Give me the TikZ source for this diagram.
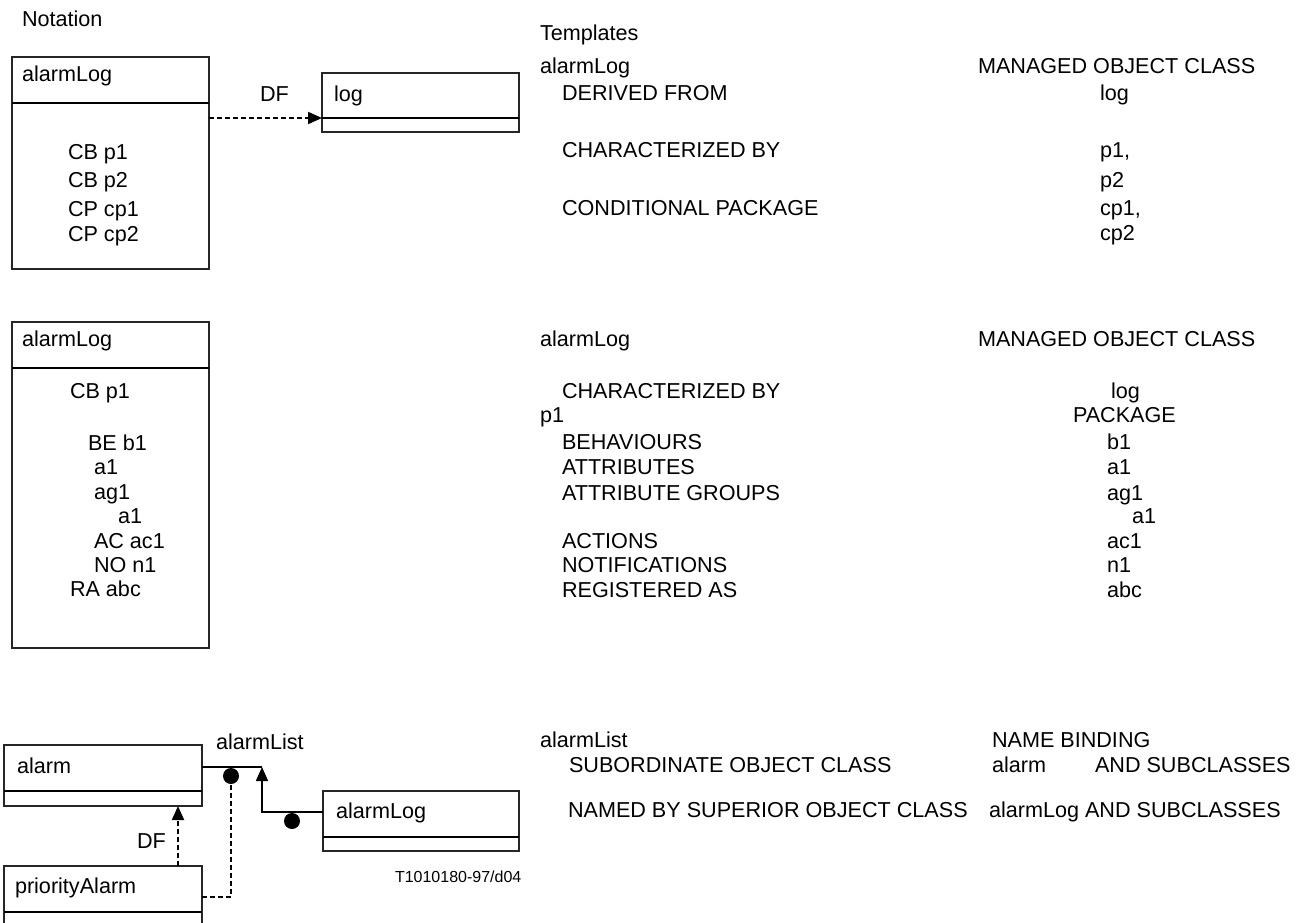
\documentclass[tikz,border=0pt]{standalone}
\usepackage{fontspec}
\setmainfont{Liberation Sans}
\usetikzlibrary{arrows.meta,calc}
\begin{document}
\begin{tikzpicture}[x=1pt,y=-1pt,
  txt/.style={anchor=base west, inner sep=0pt, outer sep=0pt, font=\fontsize{21.6}{26}\selectfont},
  small/.style={anchor=base west, inner sep=0pt, outer sep=0pt, font=\fontsize{16}{19}\selectfont},
  box/.style={draw=black!85, line width=1.4pt, anchor=north west, inner sep=0pt, outer sep=0pt},
  div/.style={line width=2.2pt, black},
  dsh/.style={line width=2pt, dash pattern=on 5pt off 3pt},
  conn/.style={line width=2pt},
  tipA/.style={-{Triangle[length=14pt,width=12pt]}},
  dot/.style={circle, fill=black, inner sep=0pt, outer sep=0pt, minimum size=16pt}
]
\useasboundingbox (0,0) rectangle (1307,923);
\clip (0,0) rectangle (1307,923);

% ---------- boxes ----------
\node[box, minimum width=197pt, minimum height=212pt] (b1) at (12,57) {};
\draw[div] ($(b1.north west)+(0,46)$) -- ($(b1.north east)+(0,46)$);
\node[box, minimum width=197pt, minimum height=59pt] (lg) at (322,73) {};
\draw[div] ($(lg.north west)+(0,45)$) -- ($(lg.north east)+(0,45)$);
\node[box, minimum width=197pt, minimum height=326pt] (b2) at (12,322) {};
\draw[div] ($(b2.north west)+(0,46)$) -- ($(b2.north east)+(0,46)$);
\node[box, minimum width=198pt, minimum height=61pt] (al) at (4,745) {};
\draw[div] ($(al.north west)+(0,46)$) -- ($(al.north east)+(0,46)$);
\node[box, minimum width=196pt, minimum height=60pt] (alB) at (323,791) {};
\draw[div] ($(alB.north west)+(0,46)$) -- ($(alB.north east)+(0,46)$);
\node[box, minimum width=198pt, minimum height=90pt] (pa) at (4,866) {};
\draw[div] ($(pa.north west)+(0,46)$) -- ($(pa.north east)+(0,46)$);

% ---------- texts: notation ----------
\node[txt] (n0) at (22,27) {Notation};
\node[txt] (n1) at (22,82) {alarmLog};
\node[txt] (n2) at (334,102) {log};
\node[txt] (n3) at (260,102) {DF};
\node[txt] (n4) at (68,160) {CB p1};
\node[txt] (n5) at (68,188) {CB p2};
\node[txt] (n6) at (68,216) {CP cp1};
\node[txt] (n7) at (68,241) {CP cp2};

\node[txt] (m1) at (22,346) {alarmLog};
\node[txt] (m2) at (70,398) {CB p1};
\node[txt] (m3) at (88,450) {BE b1};
\node[txt] (m4) at (94,474) {a1};
\node[txt] (m5) at (94,499) {ag1};
\node[txt] (m6) at (118,523) {a1};
\node[txt] (m7) at (94,548) {AC ac1};
\node[txt] (m8) at (94,572) {NO n1};
\node[txt] (m9) at (70,596) {RA abc};

\node[txt] (k1) at (17,773) {alarm};
\node[txt] (k2) at (336,818) {alarmLog};
\node[txt] (k3) at (15,893) {priorityAlarm};
\node[txt] (k4) at (216,749) {alarmList};
\node[txt] (k5) at (137,848) {DF};
\node[small] (k6) at (395,882) {T1010180-97/d04};

% ---------- texts: templates ----------
\node[txt] (t0) at (540,41) {Templates};
\node[txt] (t1) at (540,74) {alarmLog};
\node[txt] (t2) at (978,74) {MANAGED OBJECT CLASS};
\node[txt] (t3) at (562,101) {DERIVED FROM};
\node[txt] (t4) at (1100,101) {log};
\node[txt] (t5) at (562,158) {CHARACTERIZED BY};
\node[txt] (t6) at (1100,158) {p1,};
\node[txt] (t7) at (1100,187) {p2};
\node[txt] (t8) at (562,215) {CONDITIONAL PACKAGE};
\node[txt] (t9) at (1100,215) {cp1,};
\node[txt] (t10) at (1100,240) {cp2};

\node[txt] (u1) at (540,346) {alarmLog};
\node[txt] (u2) at (978,346) {MANAGED OBJECT CLASS};
\node[txt] (u3) at (562,398) {CHARACTERIZED BY};
\node[txt] (u4) at (1111,398) {log};
\node[txt] (u5) at (540,422) {p1};
\node[txt] (u6) at (1073,422) {PACKAGE};
\node[txt] (u7) at (562,449) {BEHAVIOURS};
\node[txt] (u8) at (1107,449) {b1};
\node[txt] (u9) at (562,474) {ATTRIBUTES};
\node[txt] (u10) at (1107,474) {a1};
\node[txt] (u11) at (562,500) {ATTRIBUTE GROUPS};
\node[txt] (u12) at (1107,500) {ag1};
\node[txt] (u13) at (1132,523) {a1};
\node[txt] (u14) at (562,548) {ACTIONS};
\node[txt] (u15) at (1107,548) {ac1};
\node[txt] (u16) at (562,572) {NOTIFICATIONS};
\node[txt] (u17) at (1107,572) {n1};
\node[txt] (u18) at (562,597) {REGISTERED AS};
\node[txt] (u19) at (1107,597) {abc};

\node[txt] (v1) at (540,747) {alarmList};
\node[txt] (v2) at (992,747) {NAME BINDING};
\node[txt] (v3) at (569,772) {SUBORDINATE OBJECT CLASS};
\node[txt] (v4) at (992,772) {alarm};
\node[txt] (v5) at (1095,772) {AND SUBCLASSES};
\node[txt] (v6) at (568,817) {NAMED BY SUPERIOR OBJECT CLASS};
\node[txt] (v7) at (989,817) {alarmLog AND SUBCLASSES};

% ---------- connectors ----------
\draw[dsh, tipA] (b1.east |- 0,118) -- (lg.west |- 0,118);

\coordinate (j1) at (262,767);
\coordinate (j2) at (262,812);
\draw[conn] (al.east |- j1) -- (j1);
\draw[line width=1.6pt, tipA] (alB.west |- j2) -- (j2) -- (j1);
\node[dot] (d1) at (231,776) {};
\node[dot] (d2) at (292,821) {};
\draw[dsh] (pa.east |- 0,897) -| (d1.south);
\draw[dsh, tipA] (pa.north -| 178,0) -- (al.south -| 178,0);
\end{tikzpicture}
\end{document}
